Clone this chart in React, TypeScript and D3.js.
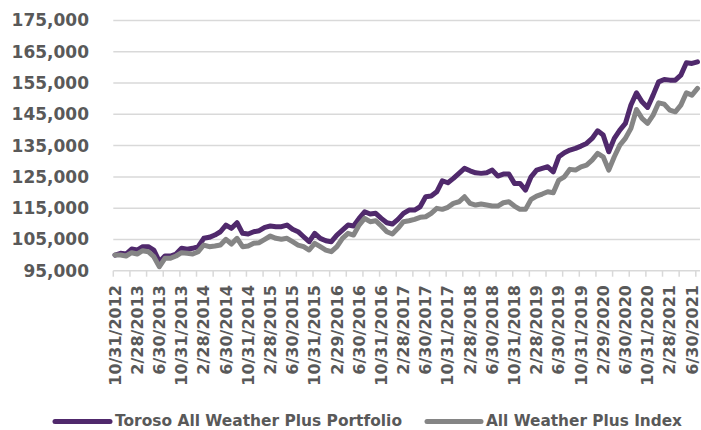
import * as d3 from 'd3';

// month-end categories, Oct 2012 .. Jul 2021
const firstMonth = new Date(2012, 10, 1);
const monthCount = 106;
const fmt = d3.timeFormat('%-m/%-d/%Y');
const categories = d3.range(monthCount).map(i =>
  fmt(d3.timeDay.offset(d3.timeMonth.offset(firstMonth, i), -1))
);

const portfolio = [
  100000, 100560, 100340, 101930, 101610, 102670, 102670, 101610, 97880, 99700,
  99700, 100340, 102160, 101880, 102160, 102670, 105350, 105670, 106400, 107460,
  109600, 108540, 110340, 106950, 106730, 107460, 107780, 108870, 109280, 109060,
  109060, 109600, 108230, 107460, 105860, 104270, 106950, 105350, 104590, 104270,
  106400, 108000, 109600, 109280, 111740, 113850, 113110, 113340, 111740, 110340,
  109920, 111420, 113340, 114390, 114390, 115450, 118640, 118870, 120240, 123760,
  123120, 124520, 126120, 127720, 126950, 126310, 126120, 126310, 127170, 125260,
  125900, 125900, 122920, 122920, 120780, 125030, 127170, 127720, 128230, 126630,
  131420, 132700, 133560, 134110, 134840, 135700, 137300, 139730, 138360, 133020,
  137300, 139950, 142090, 148000, 151870, 149000, 147200, 151140, 155390, 156150,
  155930, 155930, 157530, 161460, 161260, 161780,
];

const indexSeries = [
  100000, 100000, 99700, 100750, 100340, 101390, 101070, 99470, 96280, 98960,
  98960, 99700, 100750, 100560, 100340, 101070, 103210, 102670, 102890, 103210,
  105030, 103530, 105350, 102670, 102890, 103750, 103950, 105030, 106090, 105350,
  105030, 105350, 104270, 103210, 102670, 101610, 103750, 102670, 101610, 101070,
  102670, 105350, 106950, 106400, 109600, 111740, 110660, 110970, 109280, 107460,
  106730, 108540, 110660, 110970, 111420, 112060, 112250, 113340, 114940, 114610,
  115260, 116530, 117040, 118640, 116530, 116000, 116310, 116000, 115670, 115670,
  116730, 117050, 115670, 114610, 114610, 117810, 118870, 119510, 120240, 119920,
  123980, 125030, 127400, 127170, 128230, 128770, 130370, 132510, 131420, 127170,
  131420, 135160, 137300, 140500, 146560, 143690, 142090, 144750, 148680, 148260,
  146340, 145800, 147940, 151870, 151140, 153270,
];

const yTicks = [95000, 105000, 115000, 125000, 135000, 145000, 155000, 165000, 175000];

const xLabels = [
  '10/31/2012', '2/28/2013', '6/30/2013', '10/31/2013', '2/28/2014', '6/30/2014',
  '10/31/2014', '2/28/2015', '6/30/2015', '10/31/2015', '2/29/2016', '6/30/2016',
  '10/31/2016', '2/28/2017', '6/30/2017', '10/31/2017', '2/28/2018', '6/30/2018',
  '10/31/2018', '2/28/2019', '6/30/2019', '10/31/2019', '2/29/2020', '6/30/2020',
  '10/31/2020', '2/28/2021', '6/30/2021',
];

const seriesNames = ['Toroso All Weather Plus Portfolio', 'All Weather Plus Index'];
const colors = ['#50296c', '#858585'];

const W = 701;
const H = 430;
const FONT = '"DejaVu Sans", Verdana, sans-serif';
const TEXT = '#595959';
const GRID = '#d9d9d9';

export default function App() {
  const x = d3.scalePoint<string>().domain(categories).range([115, 697.5]);
  const y = d3.scaleLinear().domain([95000, 175000]).range([270.7, 20.5]);

  const line = d3
    .line<number>()
    .x((_, i) => x(categories[i])!)
    .y(d => y(d));

  const tickCats = categories.filter((_, i) => i % 3 === 0);
  const plotLeft = 113.3;
  const plotRight = 700;

  return (
    <svg
      width={W}
      height={H}
      style={{ position: 'absolute', left: 0, top: 0, background: '#fff' }}
      fontFamily={FONT}
      fontWeight="bold"
    >
      {yTicks.map(t => (
        <g key={t}>
          {t > 95000 && (
            <line x1={plotLeft} x2={plotRight} y1={y(t)} y2={y(t)} stroke={GRID} strokeWidth={1.5} />
          )}
          <text x={89} y={y(t)} dy="0.35em" textAnchor="end" fontSize={17} fill={TEXT}>
            {d3.format(',')(t)}
          </text>
        </g>
      ))}

      <line x1={plotLeft} x2={plotRight} y1={y(95000)} y2={y(95000)} stroke={GRID} strokeWidth={1.5} />
      {tickCats.map(c => (
        <line
          key={c}
          x1={x(c)! - 1.7}
          x2={x(c)! - 1.7}
          y1={y(95000)}
          y2={y(95000) + 6}
          stroke={GRID}
          strokeWidth={1.5}
        />
      ))}

      {xLabels.map(l => (
        <text
          key={l}
          transform={`translate(${x(l)},285) rotate(-90)`}
          dy="0.35em"
          textAnchor="end"
          fontSize={16}
          fill={TEXT}
        >
          {l}
        </text>
      ))}

      {[portfolio, indexSeries].map((s, k) => (
        <path
          key={k}
          d={line(s) ?? ''}
          fill="none"
          stroke={colors[k]}
          strokeWidth={5}
          strokeLinejoin="round"
          strokeLinecap="round"
        />
      ))}

      {/* legend */}
      {[
        { x1: 55, x2: 110, tx: 115, len: 287 },
        { x1: 427, x2: 481, tx: 486, len: 196 },
      ].map((p, k) => (
        <g key={k}>
          <line x1={p.x1} x2={p.x2} y1={421.5} y2={421.5} stroke={colors[k]} strokeWidth={5} strokeLinecap="round" />
          <text x={p.tx} y={426} fontSize={15.5} fill={TEXT} textLength={p.len} lengthAdjust="spacingAndGlyphs">
            {seriesNames[k]}
          </text>
        </g>
      ))}
    </svg>
  );
}
